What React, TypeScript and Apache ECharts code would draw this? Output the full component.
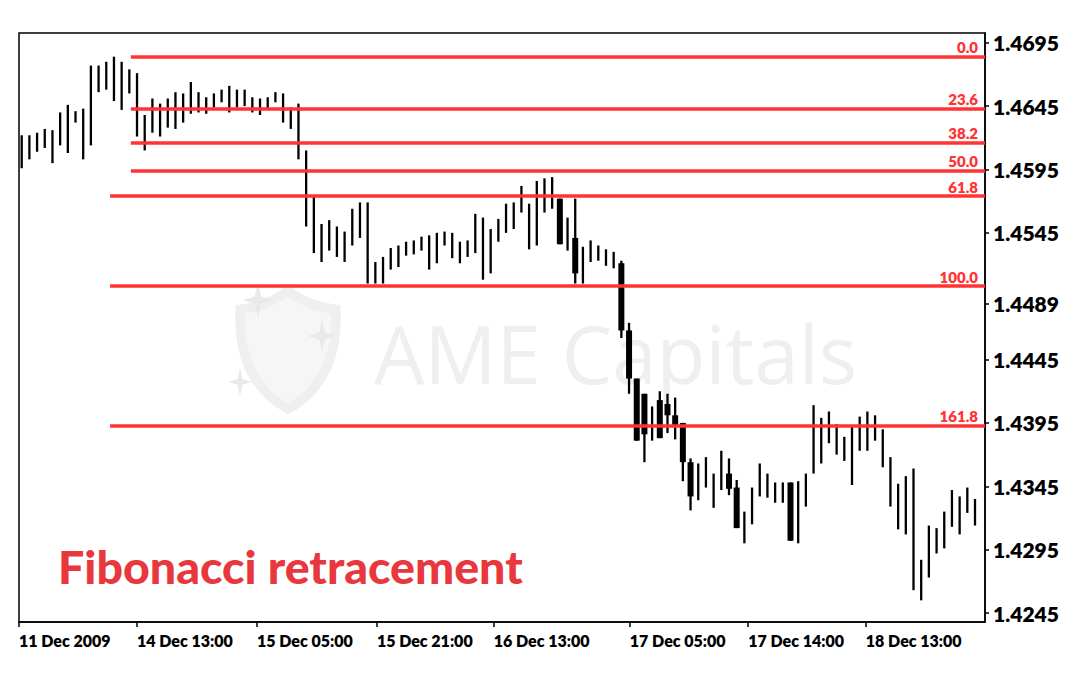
import React, { useEffect, useRef } from "react";
import * as echarts from "echarts";

// ---- data ----
const highs = [
  1.4622, 1.4622, 1.4624, 1.4627, 1.4626, 1.464, 1.4646, 1.4641, 1.4643, 1.4677,
  1.4677, 1.468, 1.4684, 1.468, 1.4674, 1.4671, 1.4638, 1.4651, 1.4647, 1.4651,
  1.4656, 1.4655, 1.4664, 1.4656, 1.4652, 1.4655, 1.4658, 1.4661, 1.4658, 1.4658,
  1.4652, 1.4651, 1.4652, 1.4656, 1.4655, 1.4644, 1.4647, 1.461, 1.4574, 1.4552,
  1.4555, 1.455, 1.4546, 1.4564, 1.4569, 1.4569, 1.4522, 1.4526, 1.4533, 1.4535,
  1.4538, 1.4539, 1.4542, 1.4543, 1.4545, 1.4546, 1.4545, 1.4538, 1.4539, 1.456,
  1.4557, 1.4548, 1.4556, 1.4568, 1.4569, 1.4582, 1.4568, 1.4586, 1.4588, 1.4589,
  1.4572, 1.4557, 1.4572, 1.4534, 1.4539, 1.4535, 1.4532, 1.453, 1.4523, 1.4474,
  1.443, 1.4418, 1.4408, 1.442, 1.4418, 1.4415, 1.4395, 1.4367, 1.4363, 1.4368,
  1.4355, 1.4373, 1.4367, 1.435, 1.4325, 1.4344, 1.4363, 1.4355, 1.4348, 1.4348,
  1.4348, 1.4349, 1.4355, 1.4409, 1.4399, 1.4404, 1.4394, 1.4384, 1.4393, 1.44,
  1.4404, 1.4401, 1.439, 1.4368, 1.4347, 1.4353, 1.4359, 1.4287, 1.4314, 1.4312,
  1.4325, 1.4342, 1.4337, 1.4344, 1.4335,
];

const lows = [
  1.4596, 1.4603, 1.4609, 1.4612, 1.46, 1.4614, 1.4608, 1.4632, 1.4603, 1.4614,
  1.4656, 1.4658, 1.4649, 1.4642, 1.4655, 1.4621, 1.461, 1.4624, 1.4621, 1.4628,
  1.4627, 1.4632, 1.4639, 1.464, 1.4639, 1.4644, 1.4648, 1.464, 1.4644, 1.4645,
  1.464, 1.4638, 1.4643, 1.4648, 1.4632, 1.4627, 1.4603, 1.455, 1.4529, 1.4522,
  1.4531, 1.4526, 1.4522, 1.4535, 1.4541, 1.4505, 1.4505, 1.4505, 1.4516, 1.4518,
  1.4527, 1.4528, 1.4531, 1.4516, 1.4521, 1.4535, 1.4525, 1.4521, 1.4526, 1.4529,
  1.4508, 1.4513, 1.4538, 1.4545, 1.4548, 1.4561, 1.4532, 1.4535, 1.4561, 1.4564,
  1.4536, 1.4531, 1.4505, 1.4505, 1.4522, 1.4523, 1.4519, 1.4517, 1.4462, 1.4418,
  1.4381, 1.4364, 1.4381, 1.4383, 1.4387, 1.4382, 1.4349, 1.4326, 1.4334, 1.4344,
  1.4328, 1.4342, 1.4338, 1.4312, 1.43, 1.4315, 1.4337, 1.4336, 1.4332, 1.4332,
  1.4302, 1.43, 1.4329, 1.4355, 1.4363, 1.4379, 1.437, 1.4365, 1.4346, 1.4373,
  1.4373, 1.4381, 1.436, 1.4329, 1.4311, 1.4307, 1.4263, 1.4255, 1.4273, 1.4292,
  1.4296, 1.4313, 1.4307, 1.4324, 1.4314,
];

// filled (bearish) bodies: [candle index, open, close]
const filledBodies: [number, number, number][] = [
  [70, 1.4572, 1.4536],
  [72, 1.4541, 1.4513],
  [78, 1.4521, 1.4468],
  [79, 1.4468, 1.443],
  [80, 1.443, 1.4381],
  [81, 1.4418, 1.4386],
  [83, 1.4413, 1.4383],
  [84, 1.441, 1.4401],
  [85, 1.4401, 1.4392],
  [86, 1.4395, 1.4364],
  [87, 1.4364, 1.4337],
  [92, 1.4355, 1.4343],
  [93, 1.4344, 1.4312],
  [100, 1.4348, 1.4302],
];

const xTickIndex = [-0.35, 15.0, 30.6, 46.2, 61.4, 79.1, 94.5, 109.8];
const xTickLabels = [
  "11 Dec 2009",
  "14 Dec 13:00",
  "15 Dec 05:00",
  "15 Dec 21:00",
  "16 Dec 13:00",
  "17 Dec 05:00",
  "17 Dec 14:00",
  "18 Dec 13:00",
];
const yTickValues = [1.4695, 1.4645, 1.4595, 1.4545, 1.4489, 1.4445, 1.4395, 1.4345, 1.4295, 1.4245];

const fibLabels = ["0.0", "23.6", "38.2", "50.0", "61.8", "100.0", "161.8"];
const fibPrices = [1.4684, 1.4643, 1.4616, 1.4594, 1.4574, 1.4503, 1.4393];
const fibStartIndex = [14.2, 14.2, 14.2, 14.2, 11.5, 11.5, 11.5];

const X_MIN = -0.351;
const X_MAX = 125.3;
const Y_MIN = 1.42379;
const Y_MAX = 1.47027;

const FIB_RED = "#ff3333";
const TITLE_RED = "#e8383d";
const WM = "#efefef";

echarts.graphic.registerShape(
  "shieldLogo",
  echarts.graphic.extendPath(
    "M50 0 C62 10 78 16 96 18 C98 60 84 92 50 110 C16 92 2 60 4 18 C22 16 38 10 50 0 Z",
    {}
  ) as any
);
echarts.graphic.registerShape(
  "sparkle",
  echarts.graphic.extendPath("M0 -10 L2 -2 L10 0 L2 2 L0 10 L-2 2 L-10 0 L-2 -2 Z", {}) as any
);

export default function App() {
  const ref = useRef<HTMLDivElement>(null);

  useEffect(() => {
    if (!ref.current) return;
    const chart = echarts.init(ref.current, null, { renderer: "svg" });

    const candleData = highs.map((h, i) => {
      const b = filledBodies.find((f) => f[0] === i);
      return [i, lows[i], h, b ? b[1] : "-", b ? b[2] : "-"];
    });

    const option: any = {
      animation: false,
      backgroundColor: "#ffffff",
      grid: {
        left: 19,
        right: 93,
        top: 33,
        bottom: 56,
        show: true,
        borderColor: "#000",
        borderWidth: 1.5,
        backgroundColor: "transparent",
      },
      xAxis: {
        type: "value",
        min: X_MIN,
        max: X_MAX,
        axisLine: { show: true, onZero: false, lineStyle: { color: "#000", width: 1.5 } },
        axisTick: {
          show: true,
          length: 5,
          customValues: xTickIndex,
          lineStyle: { color: "#000", width: 1.5 },
        },
        axisLabel: {
          customValues: xTickIndex,
          formatter: (v: number) => {
            const k = xTickIndex.findIndex((t) => Math.abs(t - v) < 1e-6);
            return k >= 0 ? xTickLabels[k] : "";
          },
          align: "left",
          color: "#000",
          fontFamily: "Lato",
          fontWeight: 800,
          fontSize: 16,
          margin: 10,
          hideOverlap: false,
        },
        splitLine: { show: false },
      },
      yAxis: {
        type: "value",
        position: "right",
        min: Y_MIN,
        max: Y_MAX,
        axisLine: { show: true, onZero: false, lineStyle: { color: "#000", width: 1.5 } },
        axisTick: {
          show: true,
          length: 4,
          customValues: yTickValues,
          lineStyle: { color: "#000", width: 1.5 },
        },
        axisLabel: {
          customValues: yTickValues,
          formatter: (v: number) => v.toFixed(4),
          color: "#000",
          fontFamily: "Lato",
          fontWeight: 800,
          fontSize: 21,
          margin: 8,
          hideOverlap: false,
        },
        splitLine: { show: false },
      },
      graphic: [
        {
          type: "shieldLogo",
          x: 236,
          y: 290,
          scaleX: 1.04,
          scaleY: 1.08,
          z: 0,
          silent: true,
          style: { fill: "#f6f6f6", stroke: WM, lineWidth: 9 },
        },
        {
          type: "sparkle",
          x: 258,
          y: 300,
          scaleX: 1.6,
          scaleY: 1.8,
          z: 0,
          silent: true,
          style: { fill: "#e9e9e9" },
        },
        {
          type: "sparkle",
          x: 322,
          y: 336,
          scaleX: 1.4,
          scaleY: 1.7,
          z: 0,
          silent: true,
          style: { fill: "#e9e9e9" },
        },
        {
          type: "sparkle",
          x: 240,
          y: 382,
          scaleX: 1.2,
          scaleY: 1.4,
          z: 0,
          silent: true,
          style: { fill: "#e9e9e9" },
        },
        {
          type: "text",
          x: 374,
          y: 352,
          z: 0,
          silent: true,
          style: {
            text: "AME Capitals",
            fill: WM,
            fontFamily: "Open Sans",
            fontWeight: 400,
            fontSize: 80,
            verticalAlign: "middle",
            align: "left",
          },
        },
        {
          type: "text",
          x: 58,
          y: 566,
          z: 10,
          silent: true,
          style: {
            text: "Fibonacci retracement",
            fill: TITLE_RED,
            fontFamily: "Lato",
            fontWeight: 900,
            fontSize: 46.5,
            verticalAlign: "middle",
            align: "left",
          },
        },
      ],
      series: [
        {
          type: "line",
          name: "fib",
          data: [],
          z: 1,
          showSymbol: false,
          markLine: {
            silent: true,
            animation: false,
            symbol: ["none", "none"],
            lineStyle: { color: FIB_RED, width: 3.5, type: "solid" },
            emphasis: { disabled: true },
            label: {
              show: true,
              position: "insideEndTop",
              formatter: "{b}",
              color: FIB_RED,
              fontFamily: "Lato",
              fontWeight: 800,
              fontSize: 15,
              distance: [7, 2],
            },
            data: fibPrices.map((p, k) => [
              { coord: [fibStartIndex[k], p], name: fibLabels[k] },
              { coord: [X_MAX, p] },
            ]),
          },
        },
        {
          type: "custom",
          name: "EURUSD",
          z: 3,
          clip: true,
          encode: { x: 0, y: [1, 2] },
          data: candleData,
          renderItem: (params: any, api: any) => {
            const i = api.value(0);
            const lo = api.value(1);
            const hi = api.value(2);
            const op = api.value(3);
            const cl = api.value(4);
            const pTop = api.coord([i, hi]);
            const pBot = api.coord([i, lo]);
            const children: any[] = [
              {
                type: "line",
                shape: { x1: pTop[0], y1: pTop[1], x2: pBot[0], y2: pBot[1] },
                style: { stroke: "#000", lineWidth: 2.3 },
              },
            ];
            if (!isNaN(op) && !isNaN(cl)) {
              const a = api.coord([i, op]);
              const b = api.coord([i, cl]);
              const w = 6;
              children.push({
                type: "rect",
                shape: {
                  x: a[0] - w / 2,
                  y: Math.min(a[1], b[1]),
                  width: w,
                  height: Math.max(1.5, Math.abs(b[1] - a[1])),
                },
                style: { fill: "#000" },
              });
            }
            return { type: "group", children };
          },
        },
      ],
    };

    chart.setOption(option);
    return () => chart.dispose();
  }, []);

  return (
    <div
      ref={ref}
      style={{ position: "fixed", left: 0, top: 0, width: 1078, height: 678, background: "#fff" }}
    />
  );
}
